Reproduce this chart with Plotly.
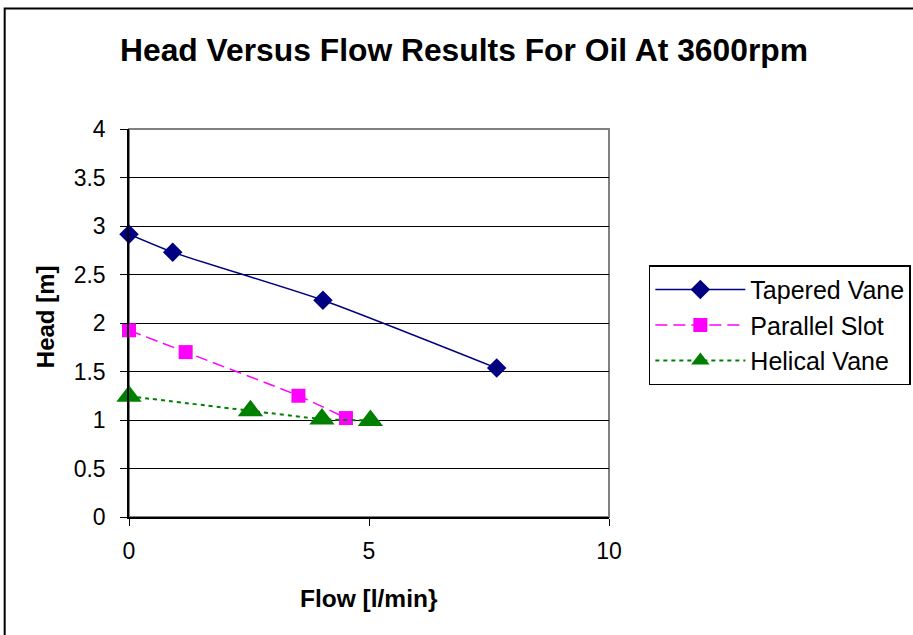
import plotly.graph_objects as go

# Data
tapered_x = [0, 0.91, 4.04, 7.66]
tapered_y = [2.915, 2.73, 2.235, 1.535]
parallel_x = [0, 1.18, 3.53, 4.52]
parallel_y = [1.925, 1.70, 1.25, 1.02]
helical_x = [0, 2.53, 4.02, 5.03]
helical_y = [1.245, 1.095, 1.01, 0.995]

x_ticks = [0, 5, 10]
y_ticks = [0, 0.5, 1, 1.5, 2, 2.5, 3, 3.5, 4]

FONT = "Liberation Sans, Arial, sans-serif"

fig = go.Figure()
fig.add_trace(go.Scatter(
    x=tapered_x, y=tapered_y, name="Tapered Vane", mode="lines+markers",
    line=dict(color="#000080", width=1.5, shape="spline", smoothing=0.6),
    marker=dict(symbol="diamond", size=15, color="#000080"), cliponaxis=False))
fig.add_trace(go.Scatter(
    x=parallel_x, y=parallel_y, name="Parallel Slot", mode="lines+markers",
    line=dict(color="#FF00FF", width=1.5, dash="12px,6px", shape="spline", smoothing=0.6),
    marker=dict(symbol="square", size=14, color="#FF00FF"), cliponaxis=False))
fig.add_trace(go.Scatter(
    x=helical_x, y=helical_y, name="Helical Vane", mode="lines+markers",
    line=dict(color="#008000", width=2, dash="4px,4px", shape="spline", smoothing=0.6),
    marker=dict(symbol="triangle-up", size=22, color="#008000"), cliponaxis=False))

fig.update_layout(
    width=913, height=635,
    margin=dict(l=129, r=304, t=129, b=118, autoexpand=False),
    paper_bgcolor="white", plot_bgcolor="white",
    font=dict(family=FONT, size=24, color="black"),
    showlegend=True,
    legend=dict(x=1.083, y=0.649, xanchor="left", yanchor="top",
                bordercolor="black", borderwidth=1.5, bgcolor="white",
                font=dict(size=25), tracegroupgap=8, itemwidth=90),
    xaxis=dict(range=[0, 10], tickvals=x_ticks, showgrid=False, zeroline=False,
               showline=True, linecolor="black", linewidth=1.5,
               ticks="outside", ticklen=7, tickcolor="black",
               ticklabelstandoff=6, tickfont=dict(size=23)),
    yaxis=dict(range=[0, 4], tickvals=y_ticks, showgrid=True, gridcolor="black",
               gridwidth=1, zeroline=False,
               showline=True, linecolor="black", linewidth=1.5,
               ticks="outside", ticklen=7, tickcolor="black",
               ticklabelstandoff=10, tickfont=dict(size=23)),
    shapes=[
        dict(type="rect", xref="paper", yref="paper", x0=0, x1=1, y0=0, y1=1,
             line=dict(color="#808080", width=2), layer="below"),
        dict(type="rect", xref="paper", yref="paper", x0=-0.259, x1=1.8,
             y0=-0.5, y1=1.3106, line=dict(color="black", width=2)),
    ],
    annotations=[
        dict(text="<b>Head Versus Flow Results For Oil At 3600rpm</b>", xref="paper", yref="paper",
             x=0.698, y=1.2036, showarrow=False, xanchor="center", yanchor="middle",
             font=dict(size=31.8)),
        dict(text="<b>Flow [l/min}</b>", xref="paper", yref="paper",
             x=0.5, y=-0.209, showarrow=False, xanchor="center", yanchor="middle",
             font=dict(size=24.5)),
        dict(text="<b>Head [m]</b>", xref="paper", yref="paper",
             x=-0.175, y=0.515, showarrow=False, xanchor="center", yanchor="middle",
             textangle=-90, font=dict(size=24)),
    ],
)

fig.write_html("out.html")
